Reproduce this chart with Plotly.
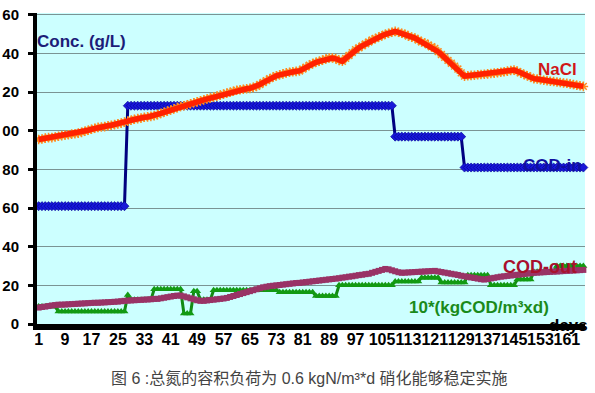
import plotly.graph_objects as go

# ---------------- data ----------------
days = list(range(1, 167))

nacl = [
    95.5, 95.8, 96.2, 96.5, 96.5, 96.8, 97.2, 97.5, 97.8, 98,
    98.3, 98.5, 98.8, 99.2, 99.8, 100.3, 100.8, 101.3, 101.8, 102,
    102.2, 102.6, 102.9, 103.2, 103.6, 104, 104.5, 105, 105.5, 106,
    106.3, 106.6, 107, 107.2, 107.5, 107.8, 108.4, 109, 109.6, 110.2,
    110.8, 111.4, 112, 112.6, 113, 113.5, 114, 114.5, 115, 115.5,
    116, 116.5, 117, 117.5, 118, 118.5, 119, 119.5, 120, 120.5,
    121, 121.3, 121.5, 121.8, 122, 122.5, 123, 124, 125, 126,
    127, 127.8, 128.5, 129, 129.5, 130, 130.3, 130.6, 130.8, 131,
    132, 133, 134, 134.8, 135.5, 136, 136.6, 137.2, 137.7, 137.7,
    137.3, 136.5, 136, 137.5, 139, 140.5, 142, 143, 144, 145,
    146, 147, 147.8, 148.5, 149.2, 150, 150.5, 151, 151.5, 151,
    150.5, 150, 149, 148.5, 148, 147, 146, 145.5, 144.5, 143.5,
    142.7, 141, 139.5, 138, 136.5, 135, 133.5, 132, 130, 128.3,
    128.5, 128.7, 128.8, 129, 129.2, 129.3, 129.5, 129.7, 129.9, 130.1,
    130.3, 130.6, 130.9, 131.2, 131.5, 130.8, 130, 129.2, 128.5, 127.8,
    127, 126.8, 126.5, 126.2, 126, 125.7, 125.5, 125.3, 125, 124.8,
    124.6, 124.3, 124, 123.6, 123.3, 123,
]

cod_in = [
    61, 61, 61, 61, 61, 61, 61, 61, 61, 61,
    61, 61, 61, 61, 61, 61, 61, 61, 61, 61,
    61, 61, 61, 61, 61, 61, 61, 113, 113, 113,
    113, 113, 113, 113, 113, 113, 113, 113, 113, 113,
    113, 113, 113, 113, 113, 113, 113, 113, 113, 113,
    113, 113, 113, 113, 113, 113, 113, 113, 113, 113,
    113, 113, 113, 113, 113, 113, 113, 113, 113, 113,
    113, 113, 113, 113, 113, 113, 113, 113, 113, 113,
    113, 113, 113, 113, 113, 113, 113, 113, 113, 113,
    113, 113, 113, 113, 113, 113, 113, 113, 113, 113,
    113, 113, 113, 113, 113, 113, 113, 113, 97, 97,
    97, 97, 97, 97, 97, 97, 97, 97, 97, 97,
    97, 97, 97, 97, 97, 97, 97, 97, 97, 81,
    81, 81, 81, 81, 81, 81, 81, 81, 81, 81,
    81, 81, 81, 81, 81, 81, 81, 81, 81, 81,
    81, 81, 81, 81, 81, 81, 81, 81, 81, 81,
    81, 81, 81, 81, 81, 81,
]

cod_out = [
    8.5, 8.8, 9, 9.3, 9.6, 9.8, 10, 10, 10.1, 10.2,
    10.3, 10.4, 10.5, 10.6, 10.7, 10.8, 10.9, 11, 11, 11.1,
    11.2, 11.3, 11.4, 11.5, 11.6, 11.8, 12, 12.1, 12.2, 12.3,
    12.4, 12.5, 12.6, 12.7, 12.8, 13, 13, 13.3, 13.6, 13.9,
    14.2, 14.5, 14.7, 14.7, 14.3, 13.8, 13.3, 12.8, 12.3, 12,
    12, 12.2, 12.4, 12.6, 12.8, 13, 13.2, 13.5, 14, 14.5,
    15, 15.5, 16, 16.5, 17, 17.5, 18, 18.5, 19, 19.3,
    19.6, 19.8, 20, 20.2, 20.4, 20.6, 20.8, 21, 21.2, 21.3,
    21.5, 21.7, 21.9, 22.1, 22.3, 22.5, 22.7, 22.9, 23.1, 23.3,
    23.5, 23.7, 24, 24.2, 24.5, 24.7, 25, 25.3, 25.5, 25.8,
    26, 26.5, 27, 27.5, 28, 28.5, 28.3, 27.8, 27.3, 26.8,
    26.5, 26.6, 26.7, 26.8, 26.9, 27, 27.1, 27.2, 27.3, 27.4,
    27.5, 27.2, 26.9, 26.6, 26.3, 26, 25.7, 25.4, 25, 24.7,
    24.4, 24.1, 23.8, 23.5, 23.2, 23, 23.3, 23.6, 23.9, 24.2,
    24.5, 24.7, 24.9, 25.1, 25.3, 25.5, 25.7, 25.9, 26.1, 26.3,
    26.5, 26.6, 26.7, 26.8, 26.9, 27, 27.1, 27.2, 27.3, 27.4,
    27.5, 27.6, 27.7, 27.8, 27.9, 28,
]

load_x10 = [
    9, 9, 9, 9, 9, 9, 6.5, 6.5, 6.5, 6.5,
    6.5, 6.5, 6.5, 6.5, 6.5, 6.5, 6.5, 6.5, 6.5, 6.5,
    6.5, 6.5, 6.5, 6.5, 6.5, 6.5, 6.5, 15, 12.5, 12.5,
    12.5, 12.5, 12.5, 12.5, 12.5, 18, 18, 18, 18, 18,
    18, 18, 18, 18, 5.5, 5.5, 5.5, 17, 17, 12.5,
    12.5, 12.5, 12.5, 17.5, 17.5, 17.5, 17.5, 17.5, 17.5, 17.5,
    17.5, 17.5, 17.5, 17.5, 17.5, 17.5, 17.5, 17.5, 17.5, 17.5,
    17.5, 17.5, 17.5, 16.5, 16.5, 16.5, 16.5, 16.5, 16.5, 16.5,
    16.5, 16.5, 16.5, 16.5, 14.5, 14.5, 14.5, 14.5, 14.5, 14.5,
    14.5, 20, 20, 20, 20, 20, 20, 20, 20, 20,
    20, 20, 20, 20, 20, 20, 20, 20, 22, 22,
    22, 22, 22, 22, 22, 22, 24, 24, 24, 24,
    24, 24, 21.5, 21.5, 21.5, 21.5, 21.5, 21.5, 21.5, 21.5,
    25.3, 25.3, 25.3, 25.3, 25.3, 25.3, 25.3, 20, 20, 20,
    20, 20, 20, 20, 20, 23, 23, 23, 23, 23,
    27, 27, 27, 27, 27, 27, 27, 30, 30, 30,
    30, 30, 30, 30, 30, 30,
]

x_tickvals = [1, 9, 17, 25, 33, 41, 49, 57, 65, 73, 81, 89, 97, 105, 113, 121, 129, 137, 145, 153, 161]
y_tickvals = [0, 20, 40, 60, 80, 100, 120, 140, 160]
y_ticktext = ["0", "20", "40", "60", "80", "00", "20", "40", "60"]

caption = "图 6 :总氮的容积负荷为 0.6 kgN/m³*d 硝化能够稳定实施"

# ---------------- figure ----------------
FONT = "Arial, Liberation Sans, sans-serif"
fig = go.Figure()

fig.add_trace(go.Scatter(
    x=days, y=load_x10, mode="lines+markers",
    line=dict(color="#138a13", width=3),
    marker=dict(symbol="triangle-up", size=7, color="#139a13"),
    showlegend=False, cliponaxis=False, hoverinfo="skip"))

fig.add_trace(go.Scatter(
    x=days, y=cod_out, mode="lines+markers",
    line=dict(color="#993366", width=2),
    marker=dict(symbol="square", size=6, color="#993366"),
    showlegend=False, cliponaxis=False, hoverinfo="skip"))

fig.add_trace(go.Scatter(
    x=days, y=cod_in, mode="lines+markers",
    line=dict(color="#000080", width=3),
    marker=dict(symbol="diamond", size=7, color="#1818d8",
                line=dict(color="#000090", width=0.6)),
    showlegend=False, cliponaxis=False, hoverinfo="skip"))

fig.add_trace(go.Scatter(
    x=days, y=nacl, mode="markers",
    marker=dict(symbol="asterisk", size=8, color="#ff8a20",
                line=dict(color="#ff8a20", width=1.5)),
    showlegend=False, cliponaxis=False, hoverinfo="skip"))

fig.add_trace(go.Scatter(
    x=days, y=nacl, mode="lines",
    line=dict(color="#ff2200", width=5.5),
    showlegend=False, cliponaxis=False, hoverinfo="skip"))

# plot area in page pixels: x 37..585, y 13..324
W, H = 595, 393
PL, PR, PT, PB = 37, 585, 13, 324

fig.update_layout(
    width=W, height=H, autosize=False,
    margin=dict(l=PL, r=W - PR, t=PT, b=H - PB, autoexpand=False),
    paper_bgcolor="white", plot_bgcolor="#ccffff",
    font=dict(family=FONT, color="black"),
)

fig.update_xaxes(
    range=[0.5, 166.5], tickmode="array", tickvals=x_tickvals,
    ticktext=[str(v) for v in x_tickvals], tickangle=0, automargin=False,
    tickfont=dict(size=16, family=FONT, color="black", weight="bold"),
    showgrid=False, zeroline=False,
    showline=True, linecolor="black", linewidth=6,
    ticks="", ticklabelstandoff=-4,
)

fig.update_yaxes(
    range=[0, 161], tickmode="array", tickvals=y_tickvals, ticktext=y_ticktext,
    automargin=False,
    tickfont=dict(size=15, family=FONT, color="black", weight="bold"),
    showgrid=True, gridcolor="#7a9494", gridwidth=1, zeroline=False,
    showline=True, linecolor="black", linewidth=4,
    ticks="outside", ticklen=5, tickwidth=3, tickcolor="black",
    ticklabelstandoff=6,
)

def px_x(px):
    return (px - PL) / float(PR - PL)

def px_y(py):
    return (PB - py) / float(PB - PT)

def label(text, x, y, color, size, xanchor="left"):
    fig.add_annotation(
        text=text, x=px_x(x), y=px_y(y), xref="paper", yref="paper",
        xanchor=xanchor, yanchor="middle", showarrow=False,
        font=dict(family=FONT, size=size, color=color, weight="bold"))

label("Conc. (g/L)", 35, 41, "#1c1c78", 17)
label("NaCl", 536, 70, "#d01818", 17)
label("COD-in", 521, 165, "#1010a0", 17)
label("COD-out", 501, 267, "#a8102c", 18)
label("10*(kgCOD/m³xd)", 407, 307, "#1a8a1a", 17)
label("days", 547, 325, "black", 17)

fig.add_annotation(
    text=caption, x=px_x(309), y=px_y(378), xref="paper", yref="paper",
    xanchor="center", yanchor="middle", showarrow=False,
    font=dict(family="Liberation Sans, Noto Sans CJK SC, sans-serif", size=16, color="#444444"))

fig.write_html("out.html", config={"displayModeBar": False},
               post_script="document.body.style.margin='0px';")
